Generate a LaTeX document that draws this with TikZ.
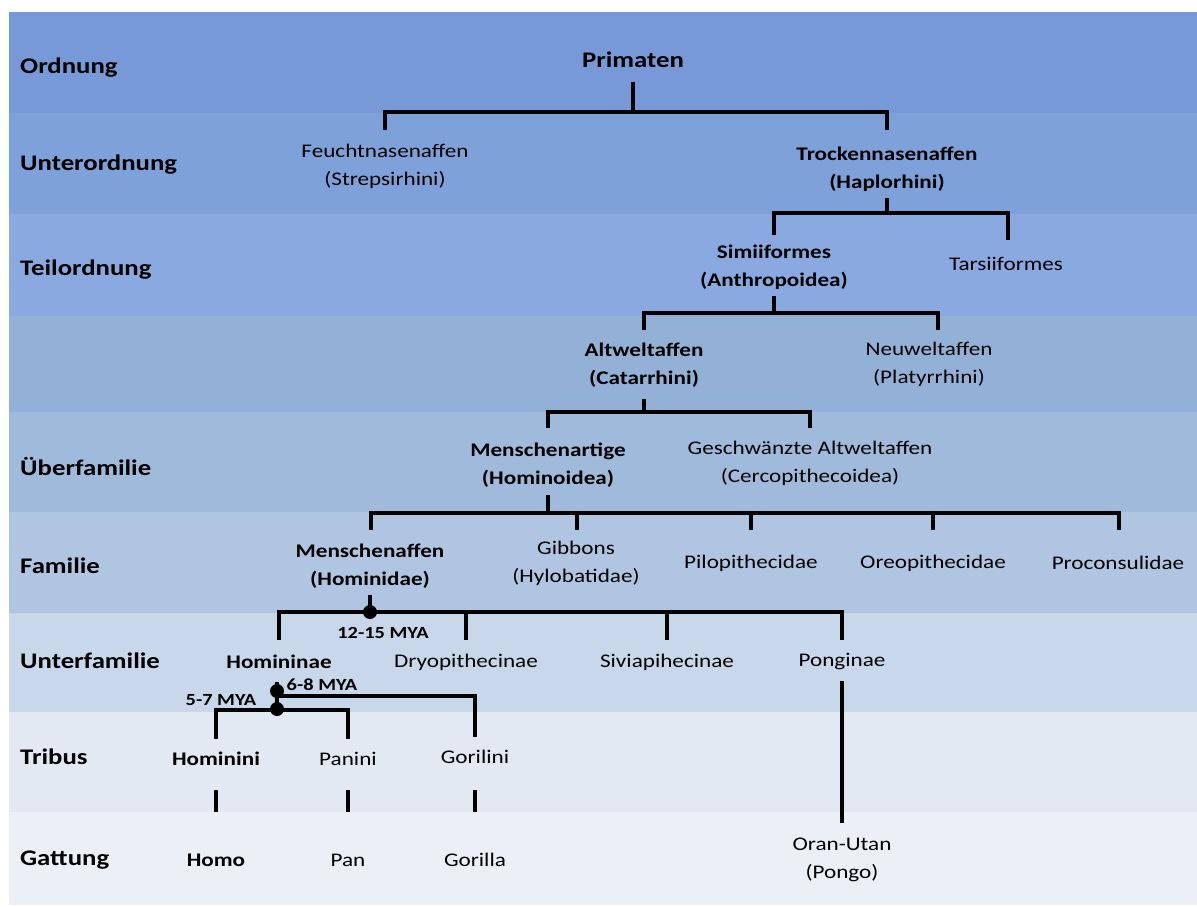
\documentclass[tikz,border=0pt]{standalone}
\usepackage{fontspec}
\setmainfont{Carlito}[FakeStretch=1.2]
\definecolor{bOrd}{RGB}{119,153,215}
\definecolor{bUnt}{RGB}{127,161,218}
\definecolor{bTeil}{RGB}{137,169,224}
\definecolor{bBlank}{RGB}{147,177,214}
\definecolor{bUeb}{RGB}{160,186,219}
\definecolor{bFam}{RGB}{175,197,225}
\definecolor{bUfam}{RGB}{200,216,234}
\definecolor{bTri}{RGB}{226,233,243}
\definecolor{bGat}{RGB}{235,240,247}
\tikzset{
  lbl/.style={inner sep=0pt, align=center, font=\fontsize{19.3}{28}\selectfont},
  blbl/.style={inner sep=0pt, align=center, font=\bfseries\fontsize{19.3}{28}\selectfont},
  rowlbl/.style={anchor=west, inner sep=0pt, font=\bfseries\fontsize{22.3}{26}\selectfont},
  toplbl/.style={inner sep=0pt, font=\bfseries\fontsize{22.3}{26}\selectfont},
  mya/.style={inner sep=0pt, font=\bfseries\fontsize{17}{20}\selectfont},
  tree/.style={line width=3.3pt, black},
  knot/.style={circle, fill=black, inner sep=0pt, minimum size=14pt}
}
\begin{document}
\begin{tikzpicture}[x=1pt,y=-1pt]
\useasboundingbox (0,0) rectangle (1197,906);
\fill[white] (0,0) rectangle (1197,906);
% bands
\fill[bOrd]   (9,12)    rectangle (1197,112.5);
\fill[bUnt]   (9,112.5) rectangle (1197,214);
\fill[bTeil]  (9,214)   rectangle (1197,315.5);
\fill[bBlank] (9,315.5) rectangle (1197,411.5);
\fill[bUeb]   (9,411.5) rectangle (1197,512);
\fill[bFam]   (9,512)   rectangle (1197,613);
\fill[bUfam]  (9,613)   rectangle (1197,712);
\fill[bTri]   (9,712)   rectangle (1197,812);
\fill[bGat]   (9,812)   rectangle (1197,905);
% row labels
\node[rowlbl] (rOrd)  at (20,68)  {Ordnung};
\node[rowlbl] (rUnt)  at (20,165) {Unterordnung};
\node[rowlbl] (rTeil) at (20,270) {Teilordnung};
\node[rowlbl] (rUeb)  at (20,466) {Überfamilie};
\node[rowlbl] (rFam)  at (20,566) {Familie};
\node[rowlbl] (rUfam) at (20,661) {Unterfamilie};
\node[rowlbl] (rTri)  at (20,757) {Tribus};
\node[rowlbl] (rGat)  at (20,860) {Gattung};
% taxa
\node[toplbl] (primaten) at (633,60) {Primaten};
\node[lbl]  (feucht)  at (385,166) {Feuchtnasenaffen\\(Strepsirhini)};
\node[blbl] (trocken) at (887,169) {Trockennasenaffen\\(Haplorhini)};
\node[blbl] (simi)    at (774,267) {Simiiformes\\(Anthropoidea)};
\node[lbl]  (tarsii)  at (1006,264) {Tarsiiformes};
\node[blbl] (altwelt) at (644,365) {Altweltaffen\\(Catarrhini)};
\node[lbl]  (neuwelt) at (929,364) {Neuweltaffen\\(Platyrrhini)};
\node[blbl] (martige) at (548,465) {Menschenartige\\(Hominoidea)};
\node[lbl]  (geschw)  at (810,463) {Geschwänzte Altweltaffen\\(Cercopithecoidea)};
\node[blbl] (maffen)  at (370,566) {Menschenaffen\\(Hominidae)};
\node[lbl]  (gibbons) at (576,563) {Gibbons\\(Hylobatidae)};
\node[lbl]  (pilo)    at (751,563) {Pilopithecidae};
\node[lbl]  (oreo)    at (933,563) {Oreopithecidae};
\node[lbl]  (procon)  at (1118,563) {Proconsulidae};
\node[blbl] (homininae) at (279,662) {Homininae};
\node[lbl]  (dryo)    at (466,662) {Dryopithecinae};
\node[lbl]  (sivia)   at (667,662) {Siviapihecinae};
\node[lbl]  (pong)    at (842,662) {Ponginae};
\node[blbl] (hominini) at (216,759) {Hominini};
\node[lbl]  (panini)  at (348,759) {Panini};
\node[lbl]  (gorilini) at (475,757) {Gorilini};
\node[blbl] (homo)    at (216,860) {Homo};
\node[lbl]  (pan)     at (348,860) {Pan};
\node[lbl]  (gorilla) at (475,860) {Gorilla};
\node[lbl]  (oran)    at (842,860) {Oran-Utan\\(Pongo)};
% MYA labels
\node[mya] (m12) at (383,633) {12-15 MYA};
\node[mya] (m68) at (322,685) {6-8 MYA};
\node[mya] (m57) at (221,700) {5-7 MYA};
% connectors
\draw[tree] (primaten |- 0,82) -- (primaten |- 0,112);
\draw[tree] (feucht |- 0,130) -- (feucht |- 0,112) -| (trocken |- 0,130);
\draw[tree] (trocken |- 0,198) -- (trocken |- 0,213);
\draw[tree] (simi |- 0,235) -- (simi |- 0,213) -| (1008,240) coordinate (tarsTop);
\draw[tree] (simi |- 0,296) -- (simi |- 0,313);
\draw[tree] (altwelt |- 0,330) -- (altwelt |- 0,313) -| (938,330) coordinate (neuTop);
\draw[tree] (altwelt |- 0,399) -- (altwelt |- 0,412);
\draw[tree] (martige |- 0,428) -- (martige |- 0,412) -| (geschw |- 0,428);
\draw[tree] (martige |- 0,495) -- (martige |- 0,513);
\draw[tree] (371,530) -- (371,513) -| (1119,530);
\draw[tree] (577,513) -- (577,530);
\draw[tree] (pilo |- 0,513) -- (pilo |- 0,530);
\draw[tree] (oreo |- 0,513) -- (oreo |- 0,530);
% Hominidae
\draw[tree] (maffen |- 0,595) -- (maffen |- 0,612);
\draw[tree] (homininae |- 0,640) -- (homininae |- 0,612) -| (pong |- 0,640);
\draw[tree] (dryo |- 0,612) -- (dryo |- 0,640);
\draw[tree] (sivia |- 0,612) -- (sivia |- 0,640);
\node[knot] (k12) at (maffen |- 0,612) {};
% Homininae
\draw[tree] (277,682) -- (277,711);
\draw[tree] (277,696) -| (gorilini |- 0,737);
\draw[tree] (hominini |- 0,739) -- (hominini |- 0,710) -| (panini |- 0,739);
\node[knot] (k68) at (277,691) {};
\node[knot] (k57) at (277,709) {};
% Tribus to Gattung
\draw[tree] (hominini |- 0,790) -- (hominini |- 0,812);
\draw[tree] (panini |- 0,790) -- (panini |- 0,812);
\draw[tree] (gorilini |- 0,790) -- (gorilini |- 0,812);
\draw[tree] (pong |- 0,681) -- (pong |- 0,823);
\end{tikzpicture}
\end{document}
